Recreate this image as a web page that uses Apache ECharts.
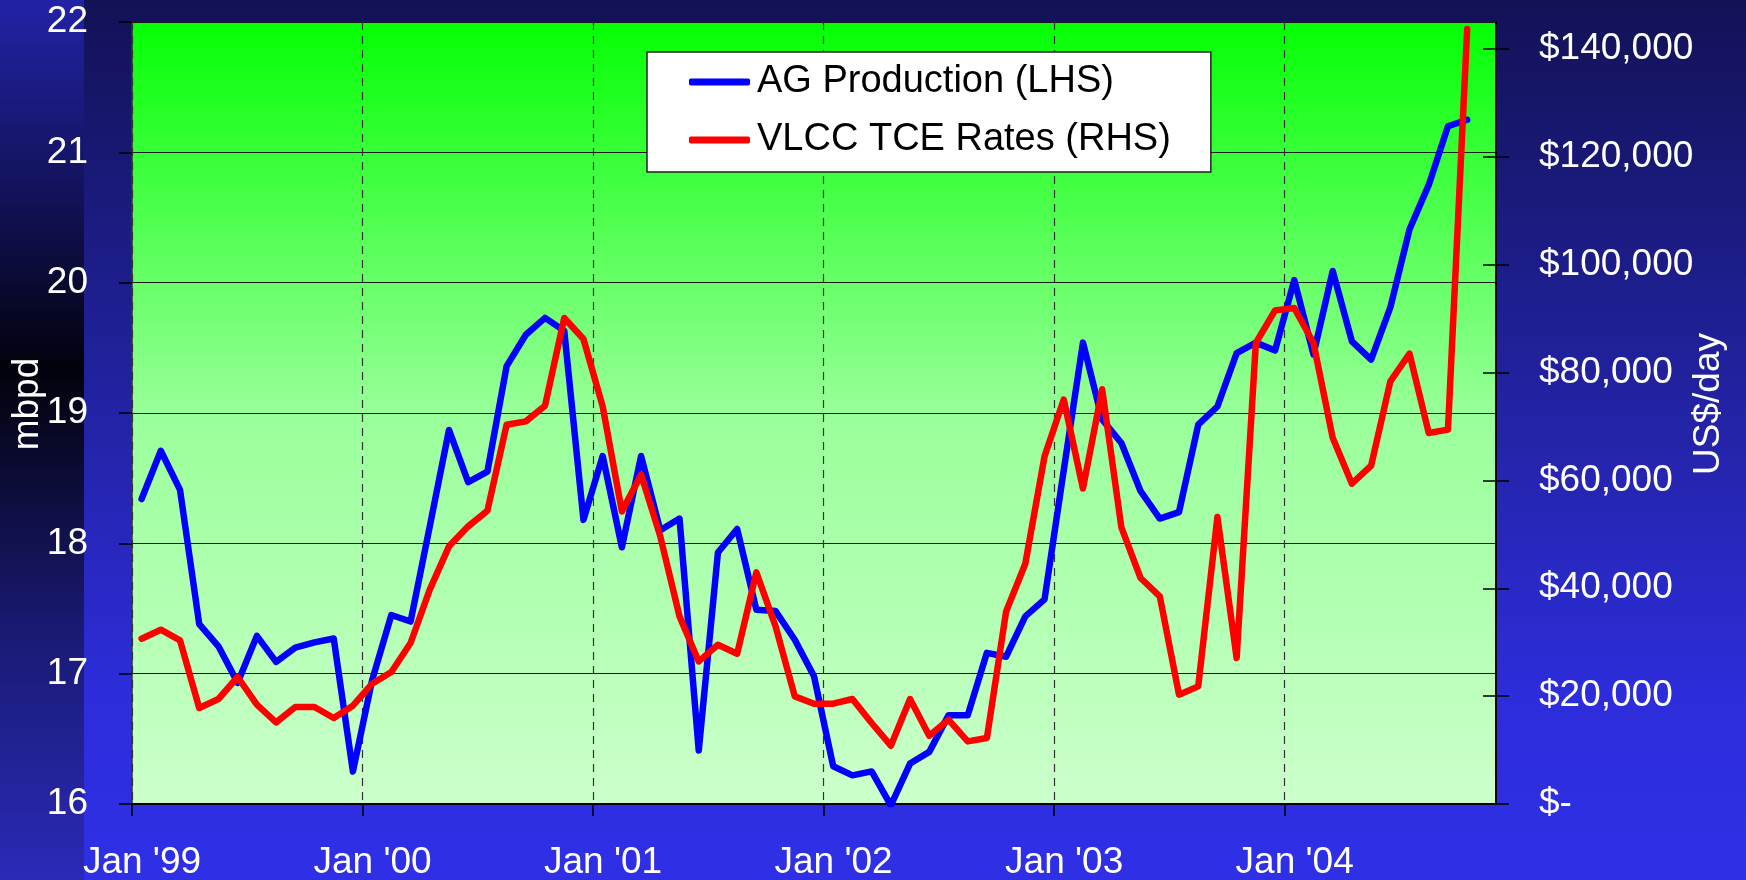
<!DOCTYPE html>
<html>
<head>
<meta charset="utf-8">
<title>AG Production vs VLCC TCE Rates</title>
<script src="https://cdn.jsdelivr.net/npm/echarts@6/dist/echarts.min.js"></script>
<style>
  html, body { margin: 0; padding: 0; background: #14145c; }
  #chart { width: 1746px; height: 880px; }
</style>
</head>
<body>
<div id="chart"></div>
<script>
// monthly readings, Jan 1999 .. Oct 2004
const agProduction = [
  18.34, 18.71, 18.41, 17.38, 17.21, 16.93, 17.29, 17.09, 17.20, 17.24, 17.27, 16.25,
  16.95, 17.45, 17.40, 18.13, 18.87, 18.47, 18.55, 19.36, 19.60, 19.73, 19.63, 18.18,
  18.67, 17.97, 18.67, 18.10, 18.19, 16.41, 17.93, 18.11, 17.49, 17.48, 17.26, 16.98,
  16.29, 16.22, 16.25, 15.99, 16.31, 16.40, 16.68, 16.68, 17.16, 17.13, 17.44, 17.57,
  18.56, 19.54, 18.95, 18.77, 18.40, 18.19, 18.24, 18.91, 19.05, 19.46, 19.54, 19.48,
  20.02, 19.45, 20.09, 19.55, 19.41, 19.81, 20.41, 20.75, 21.20, 21.25
]
const vlccRates = [
  30650, 32320, 30340, 17800, 19470, 23550, 18410, 15130, 17990, 17990, 15950, 18230,
  22310, 24480, 29850, 39740, 47770, 51480, 54390, 70330, 70950, 73860, 90120, 86220,
  73730, 54260, 61060, 49620, 34790, 26440, 29540, 27870, 42950, 32930, 19950, 18600,
  18600, 19470, 15020, 10810, 19470, 12660, 15630, 11610, 12240, 35710, 44560, 64460,
  75000, 58500, 76900, 51300, 41910, 38500, 20270, 21810, 53220, 27070, 85480, 91530,
  91970, 85480, 67900, 59390, 62730, 78360, 83500, 68800, 69410, 143710
]

const xTicks = [0, 12, 24, 36, 48, 60]
const xTickLabels = ["Jan '99", "Jan '00", "Jan '01", "Jan '02", "Jan '03", "Jan '04"]
const leftTicks = [16, 17, 18, 19, 20, 21, 22]
const rightTicks = [0, 20000, 40000, 60000, 80000, 100000, 120000, 140000]

const FONT = "'Liberation Sans', Arial, sans-serif"

// month index -> middle of the month on the x axis
const toPoints = (vals) => vals.map((v, i) => [i + 0.5, v])

function fmtDollar(v) {
  if (v === 0) return '$-'
  return '$' + v.toLocaleString('en-US')
}

const chart = echarts.init(document.getElementById('chart'))
const LG = echarts.graphic.LinearGradient

chart.setOption({
  animation: false,
  graphic: [
    {
      type: 'rect', left: 84, top: 0, z: -10, silent: true,
      shape: { width: 1662, height: 880 },
      style: { fill: new LG(0, 0, 0, 1, [
        { offset: 0, color: '#121256' },
        { offset: 0.5, color: '#2424aa' },
        { offset: 0.8, color: '#2d2ddc' },
        { offset: 1, color: '#2f2fe6' },
      ]) },
    },
    {
      type: 'rect', left: 0, top: 0, z: -10, silent: true,
      shape: { width: 84, height: 880 },
      style: { fill: new LG(0, 0, 0, 1, [
        { offset: 0, color: '#2222a6' },
        { offset: 0.2, color: '#141460' },
        { offset: 0.42, color: '#02020c' },
        { offset: 0.72, color: '#1a1a74' },
        { offset: 1, color: '#2a2ab8' },
      ]) },
    },
  ],
  grid: {
    left: 132, right: 250, top: 22, bottom: 76,
    containLabel: false,
    outerBoundsMode: 'none',
    show: true,
    borderWidth: 0,
    backgroundColor: new LG(0, 0, 0, 1, [
      { offset: 0, color: '#05ff05' },
      { offset: 0.5, color: '#99ff99' },
      { offset: 1, color: '#ccffcc' },
    ]),
  },
  legend: {
    orient: 'vertical',
    left: 647, top: 52,
    padding: [11, 40, 13, 42],
    itemGap: 20,
    itemWidth: 61,
    itemHeight: 7,
    icon: 'roundRect',
    backgroundColor: '#fff',
    borderColor: '#222',
    borderWidth: 1.5,
    textStyle: { color: '#000', fontSize: 38, fontFamily: FONT, lineHeight: 38, padding: [0, 0, 0, 2] },
    data: ['AG Production (LHS)', 'VLCC TCE Rates (RHS)'],
  },
  xAxis: {
    type: 'value', min: 0, max: 71, interval: 12,
    axisLine: { show: true, onZero: false, lineStyle: { color: '#000', width: 2 } },
    axisTick: { show: true, inside: false, length: 12, customValues: xTicks, lineStyle: { color: '#000', width: 1.5 } },
    axisLabel: {
      customValues: xTicks,
      formatter: (v) => xTickLabels[xTicks.indexOf(v)] || '',
      color: '#fff', fontSize: 37, fontFamily: FONT, margin: 40,
      padding: [0, 0, 0, 20],
    },
    splitLine: { show: true, lineStyle: { color: '#333', width: 1.2, type: [8, 6] } },
  },
  yAxis: [
    {
      type: 'value', position: 'left', min: 16, max: 22, interval: 1,
      name: 'mbpd', nameLocation: 'middle', nameGap: 86, nameRotate: 90, nameMoveOverlap: false,
      nameTextStyle: { color: '#fff', fontSize: 37, fontFamily: FONT, padding: [0, 0, 0, 18] },
      axisLine: { show: true, lineStyle: { color: '#333', width: 1.5 } },
      axisTick: { show: true, inside: false, length: 13, customValues: leftTicks, lineStyle: { color: '#000', width: 1.5 } },
      axisLabel: { customValues: leftTicks, color: '#fff', fontSize: 37, fontFamily: FONT, margin: 44 },
      splitLine: { show: true, lineStyle: { color: '#1a1a1a', width: 1.2 } },
    },
    {
      type: 'value', position: 'right', min: 0, max: 145000, interval: 20000,
      name: 'US$/day', nameLocation: 'middle', nameGap: 194, nameRotate: 90, nameMoveOverlap: false,
      nameTextStyle: { color: '#fff', fontSize: 37, fontFamily: FONT, padding: [0, 0, 0, 18] },
      axisLine: { show: true, lineStyle: { color: '#000', width: 2 } },
      axisTick: { show: true, inside: false, length: 13, customValues: rightTicks, lineStyle: { color: '#000', width: 1.5 } },
      axisLabel: { customValues: rightTicks, formatter: fmtDollar, color: '#fff', fontSize: 37, fontFamily: FONT, margin: 43 },
      splitLine: { show: false },
    },
    {
      // inner half of the crossing ticks on the right axis
      type: 'value', position: 'right', min: 0, max: 145000, interval: 20000,
      axisLine: { show: false },
      axisTick: { show: true, inside: true, length: 13, customValues: rightTicks, lineStyle: { color: '#000', width: 1.5 } },
      axisLabel: { show: false },
      splitLine: { show: false },
    },
  ],
  series: [
    {
      name: 'AG Production (LHS)',
      type: 'line',
      yAxisIndex: 0,
      data: toPoints(agProduction),
      symbol: 'none',
      lineStyle: { color: '#0000ff', width: 6.5, join: 'round', cap: 'round' },
      itemStyle: { color: '#0000ff' },
    },
    {
      name: 'VLCC TCE Rates (RHS)',
      type: 'line',
      yAxisIndex: 1,
      data: toPoints(vlccRates),
      symbol: 'none',
      lineStyle: { color: '#ff0000', width: 6.5, join: 'round', cap: 'round' },
      itemStyle: { color: '#ff0000' },
    },
  ],
})
</script>
</body>
</html>
